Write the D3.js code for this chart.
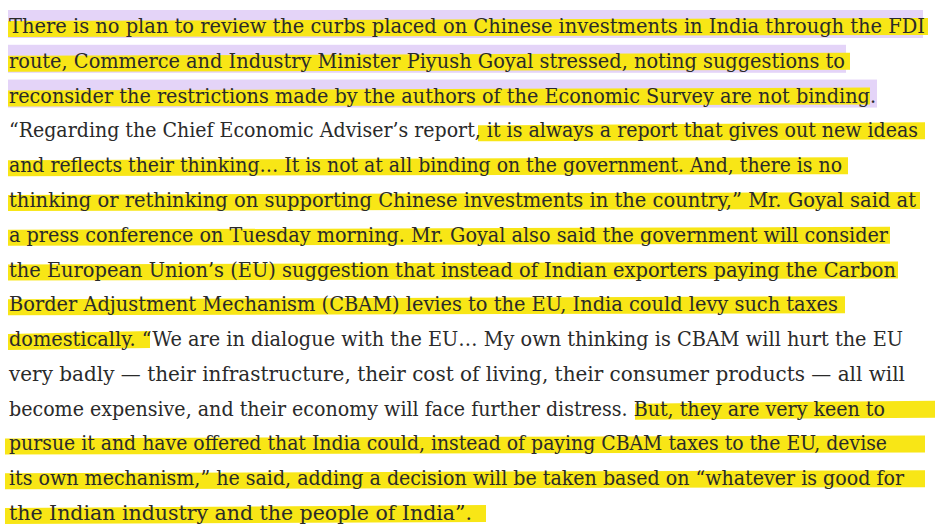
<!DOCTYPE html>
<html>
<head>
<meta charset="utf-8">
<script src="https://cdn.jsdelivr.net/npm/d3@7"></script>
<style>
  body { margin: 0; background: #fff; }
</style>
</head>
<body>
<script>
// lines of the paragraph, as they wrap in the picture
const lines = [
  "There is no plan to review the curbs placed on Chinese investments in India through the FDI",
  "route, Commerce and Industry Minister Piyush Goyal stressed, noting suggestions to",
  "reconsider the restrictions made by the authors of the Economic Survey are not binding.",
  "“Regarding the Chief Economic Adviser’s report, it is always a report that gives out new ideas",
  "and reflects their thinking… It is not at all binding on the government. And, there is no",
  "thinking or rethinking on supporting Chinese investments in the country,” Mr. Goyal said at",
  "a press conference on Tuesday morning. Mr. Goyal also said the government will consider",
  "the European Union’s (EU) suggestion that instead of Indian exporters paying the Carbon",
  "Border Adjustment Mechanism (CBAM) levies to the EU, India could levy such taxes",
  "domestically. “We are in dialogue with the EU… My own thinking is CBAM will hurt the EU",
  "very badly — their infrastructure, their cost of living, their consumer products — all will",
  "become expensive, and their economy will face further distress. But, they are very keen to",
  "pursue it and have offered that India could, instead of paying CBAM taxes to the EU, devise",
  "its own mechanism,” he said, adding a decision will be taken based on “whatever is good for",
  "the Indian industry and the people of India”."
];
// right edge of each line of text
const lineEnds = [925, 845, 876, 918, 842, 916, 888, 896, 838, 903, 905, 885, 887, 904, 472];
// purple selection band: [line, x0, x1]
const selection = [[0, 8, 923], [1, 8, 846], [2, 8, 877]];
// yellow marker strokes: [line, x0, x1]
const marker = [
  [0, 8, 928], [1, 8, 850], [2, 8, 870], [3, 478, 925], [4, 8, 848],
  [5, 8, 920], [6, 8, 890], [7, 8, 898], [8, 8, 845], [9, 8, 150],
  [11, 635, 935], [12, 5, 925], [13, 5, 925], [14, 5, 486]
];

const W = 940, H = 532;
const svg = d3.select("body").append("svg").attr("width", W).attr("height", H);

const y = d3.scaleLinear().domain([0, 14]).range([33, 520]);

svg.selectAll("rect.sel").data(selection).enter().append("rect")
  .attr("class", "sel")
  .attr("x", d => d[1]).attr("width", d => d[2] - d[1])
  .attr("y", d => y(d[0]) - 23).attr("height", 28)
  .attr("fill", "#e4d4f8");

svg.selectAll("path.mark").data(marker).enter().append("path")
  .attr("class", "mark")
  .attr("d", d => {
    const yb = y(d[0]);
    return `M${d[1]},${yb - 12} L${d[2]},${yb - 15} L${d[2]},${yb + 2} L${d[1]},${yb + 4} Z`;
  })
  .attr("fill", "#f8e616");

svg.selectAll("text.line").data(lines).enter().append("text")
  .attr("class", "line")
  .attr("x", 9)
  .attr("y", (d, i) => y(i))
  .attr("textLength", (d, i) => lineEnds[i] - 9)
  .attr("lengthAdjust", "spacingAndGlyphs")
  .attr("font-family", "'DejaVu Serif', 'Liberation Serif', serif")
  .attr("font-size", 21)
  .attr("fill", "#2a2a2a")
  .text(d => d);
</script>
</body>
</html>
